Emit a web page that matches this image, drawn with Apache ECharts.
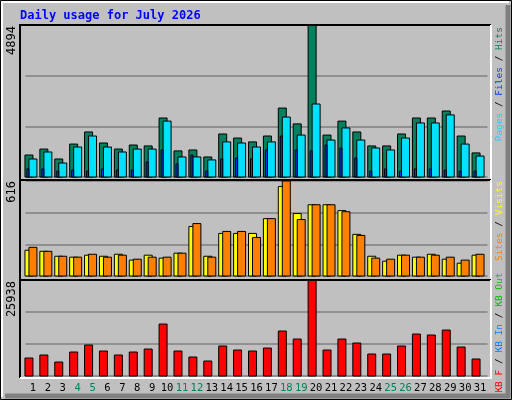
<!DOCTYPE html>
<html><head><meta charset="utf-8">
<script src="https://cdn.jsdelivr.net/npm/echarts@6/dist/echarts.min.js"></script>
<style>html,body{margin:0;padding:0;background:#C0C0C0}#c{width:512px;height:400px}</style>
</head><body><div id="c"></div>
<script>
const days = ['1','2','3','4','5','6','7','8','9','10','11','12','13','14','15','16','17','18','19','20','21','22','23','24','25','26','27','28','29','30','31'];
const weekend = ['4','5','11','12','18','19','25','26'];
const hits = [708,900,580,1060,1450,1095,900,1030,1000,1900,840,870,645,1385,1255,1130,1320,2220,1710,4894,1350,1800,1450,1000,1000,1385,1900,1900,2125,1320,775];
const files = [580,805,450,965,1320,965,805,900,900,1800,645,645,550,1130,1095,965,1130,1930,1350,2350,1190,1580,1190,935,870,1255,1740,1740,2000,1060,675];
const pages = [260,260,190,225,190,260,225,225,485,870,420,710,190,580,610,580,870,1320,870,840,1030,935,610,190,260,190,260,260,225,190,190];
const visits = [167,160,128,122,135,128,141,103,135,116,148,321,128,276,276,276,372,580,405,462,462,424,270,128,96,135,122,141,109,83,135];
const sites = [186,160,128,122,141,122,135,109,122,122,148,340,122,289,289,250,372,616,366,462,462,417,263,116,109,135,122,135,122,103,141];
const kbytes = [4860,5670,3780,6480,8370,6750,5670,6480,7290,14040,6750,5130,4050,8100,7020,6750,7560,12150,9990,25938,7020,9990,8910,5940,5940,8100,11340,11070,12420,7830,4590];
const maxTop = 4894, maxMid = 616, maxBot = 25938;

const FONT = 'DejaVu Sans Mono';
const chart = echarts.init(document.getElementById('c'), null, {renderer:'canvas'});

function rect(api, x0, x1, v, color){
  const p = api.coord([api.value(0), v]);
  const b = api.coord([api.value(0), 0]);
  return {type:'rect', shape:{x:p[0]+x0, y:p[1], width:x1-x0, height:b[1]-p[1]},
    style:{fill:color, stroke:'#000', lineWidth:1}};
}
function mk(arrs){ return days.map((d,i)=>[i].concat(arrs.map(a=>a[i]))); }

const grids = [
  {left:25.5, width:462, top:25, height:152},
  {left:25.5, width:462, top:181, height:95},
  {left:25.5, width:462, top:280, height:96}
];
const maxes = [maxTop, maxMid, maxBot];
const xAxes = grids.map((g,i)=>({type:'category', gridIndex:i, data:days, boundaryGap:true,
  axisLine:{show:false}, axisTick:{show:false},
  axisLabel:{show:i===2, interval:0, margin:7, fontFamily:FONT, fontSize:10.5,
    formatter:(v)=> weekend.includes(v) ? '{g|'+v+'}' : '{k|'+v+'}',
    rich:{g:{color:'#00805C',fontFamily:FONT,fontSize:10.5}, k:{color:'#000',fontFamily:FONT,fontSize:10.5}}}}));
const yAxes = grids.map((g,i)=>({type:'value', gridIndex:i, min:0, max:maxes[i], interval:maxes[i]/3,
  axisLabel:{show:false}, axisLine:{show:false}, axisTick:{show:false},
  splitLine:{show:true, lineStyle:{color:'#808080', width:1.5}}}));

function frame(x0,y0,x1,y1){
  return [
    {type:'polyline', shape:{points:[[x0,y1],[x0,y0],[x1,y0]]}, style:{stroke:'#000',lineWidth:2,fill:null}, z:100},
    {type:'polyline', shape:{points:[[x1,y0],[x1,y1],[x0,y1]]}, style:{stroke:'#fff',lineWidth:2,fill:null}, z:100}
  ];
}
function vtext(x,y,txt,rich,size){
  return {type:'text', x:x, y:y, rotation:Math.PI/2, z:100,
    style:{text:txt, rich:rich, align:'right', verticalAlign:'middle', fontFamily:FONT, fontSize:size||12, fill:'#000'}};
}
const R = (c)=>({fill:c, fontFamily:FONT, fontSize:9.5});

chart.setOption({
  animation:false,
  backgroundColor:'#C0C0C0',
  grid:grids,
  xAxis:xAxes, yAxis:yAxes,
  graphic:[
    {type:'rect', shape:{x:0.5,y:0.5,width:511,height:399}, style:{fill:null, stroke:'#000', lineWidth:1}, z:90},
    {type:'polyline', shape:{points:[[2,397],[2,2],[509,2]]}, style:{stroke:'#fff',lineWidth:2,fill:null}, z:90},
    {type:'polyline', shape:{points:[[508,5],[508,396],[5,396]]}, style:{stroke:'#808080',lineWidth:5,fill:null}, z:90},
    {type:'text', x:20, y:16, z:100, style:{text:'Daily usage for July 2026', fill:'#0000FF', fontFamily:FONT, fontSize:12, fontWeight:'bold', verticalAlign:'middle'}},
    ...frame(20,25,491,180), ...frame(20,180,491,280), ...frame(20,280,491,378),
    vtext(12,26,'4894'), vtext(12,181,'616'), vtext(12,281,'25938'),
    vtext(500,27,'{p|Pages}{s| / }{f|Files}{s| / }{h|Hits}',
      {p:R('#00E0FF'), f:R('#0040FF'), h:R('#00805C'), s:R('#000')}, 9.5),
    vtext(500,181,'{r|KB F}{s| / }{b|KB In}{s| / }{g|KB Out}{s|  }{o|Sites}{s| / }{y|Visits}',
      {r:R('#FF0000'), b:R('#0080FF'), g:R('#00C000'), o:R('#FF8000'), y:R('#FFFF00'), s:R('#000')}, 9.5)
  ],
  series:[
    {type:'custom', xAxisIndex:0, yAxisIndex:0, data:mk([hits,files,pages]),
      renderItem:(p,api)=>({type:'group', children:[
        rect(api,-8,0,api.value(1),'#00805C'),
        rect(api,-4,4,api.value(2),'#00E0FF'),
        rect(api,-6,-4,api.value(3),'#0040FF')]})},
    {type:'custom', xAxisIndex:1, yAxisIndex:1, data:mk([visits,sites]),
      renderItem:(p,api)=>({type:'group', children:[
        rect(api,-8,0,api.value(1),'#FFFF00'),
        rect(api,-4,4,api.value(2),'#FF8000')]})},
    {type:'custom', xAxisIndex:2, yAxisIndex:2, data:mk([kbytes]),
      renderItem:(p,api)=>rect(api,-8,0,api.value(1),'#FF0000')}
  ]
});
</script></body></html>
